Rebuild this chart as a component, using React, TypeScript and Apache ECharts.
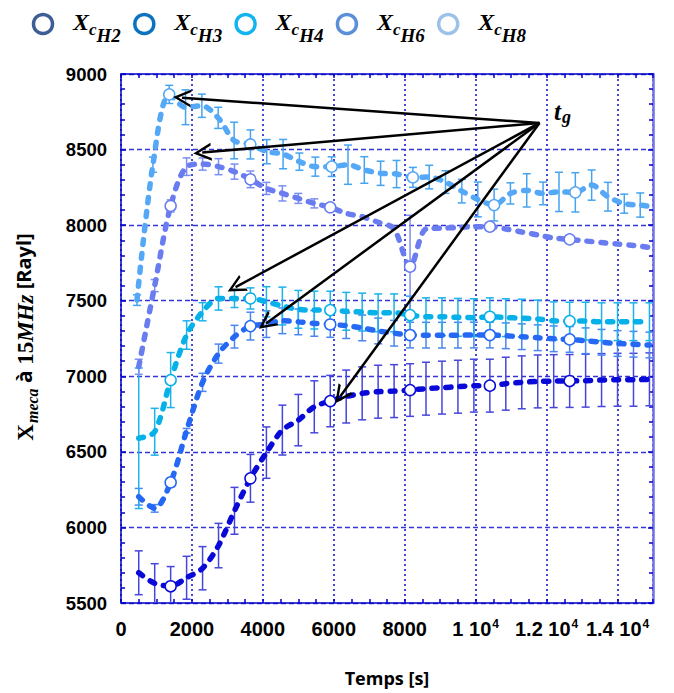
import React, { useEffect, useRef } from 'react';
import * as echarts from 'echarts';

// Times (s) shared by X_cH2, X_cH3, X_cH4, X_cH6
const timesMain = [500, 950, 1400, 1850, 2300, 2750, 3200, 3650, 4100, 4550, 5000, 5450, 5900, 6350, 6800, 7250, 7700, 8150, 8600, 9050, 9500, 9950, 10400, 10850, 11300, 11750, 12200, 12650, 13100, 13550, 14000, 14450, 14900];
// Times (s) of X_cH8
const timesCH8 = [450, 900, 1360, 1820, 2280, 2740, 3190, 3650, 4110, 4570, 5030, 5480, 5940, 6400, 6860, 7320, 7770, 8230, 8690, 9150, 9610, 10060, 10520, 10980, 11440, 11900, 12350, 12810, 13270, 13730, 14190, 14640, 14950];

const ch2 = [5700, 5630, 5611, 5667, 5730, 5880, 6110, 6325, 6495, 6644, 6710, 6798, 6836, 6866, 6887, 6898, 6902, 6909, 6918, 6925, 6931, 6938, 6938, 6951, 6960, 6966, 6968, 6969, 6971, 6975, 6977, 6977, 6980];
const ch2Err = [145, 130, 130, 142, 143, 147, 155, 158, 170, 165, 170, 172, 170, 175, 175, 175, 175, 174, 175, 175, 175, 175, 175, 175, 175, 175, 175, 175, 175, 175, 175, 175, 175];

const ch3 = [6203, 6126, 6298, 6640, 6960, 7150, 7262, 7332, 7345, 7367, 7360, 7350, 7343, 7335, 7320, 7300, 7285, 7273, 7272, 7272, 7272, 7273, 7273, 7268, 7262, 7255, 7248, 7244, 7235, 7225, 7217, 7212, 7207];
const ch3Err = [55, 25, 30, 15, 60, 63, 75, 92, 88, 85, 85, 85, 85, 85, 85, 85, 85, 85, 85, 85, 85, 85, 85, 85, 85, 85, 85, 85, 85, 85, 85, 85, 85];

const ch4 = [6590, 6633, 6975, 7273, 7427, 7515, 7515, 7515, 7493, 7465, 7443, 7438, 7438, 7430, 7425, 7420, 7420, 7405, 7394, 7394, 7390, 7388, 7394, 7388, 7385, 7379, 7367, 7365, 7365, 7361, 7361, 7361, 7361];
const ch4Err = [465, 155, 182, 94, 60, 77, 60, 70, 100, 125, 125, 125, 125, 125, 125, 125, 125, 125, 125, 125, 125, 125, 125, 125, 125, 125, 125, 125, 125, 125, 125, 125, 125];

const ch6 = [7063, 7600, 8127, 8387, 8404, 8387, 8354, 8303, 8243, 8210, 8177, 8144, 8118, 8078, 8056, 8019, 7975, 7725, 7975, 7980, 7985, 7990, 7990, 7975, 7955, 7935, 7915, 7906, 7895, 7885, 7875, 7865, 7853];
const ch6Err = [50, 40, 40, 58, 40, 53, 50, 55, 40, 50, 33, 30, 0, 0, 0, 0, 0, 340, 0, 0, 0, 0, 0, 0, 0, 0, 0, 0, 0, 0, 0, 0, 0];

const ch8 = [7504, 8400, 8865, 8780, 8790, 8710, 8560, 8534, 8486, 8470, 8420, 8387, 8387, 8400, 8365, 8343, 8338, 8316, 8318, 8285, 8225, 8170, 8133, 8210, 8230, 8210, 8220, 8217, 8265, 8188, 8142, 8133, 8122];
const ch8Err = [35, 50, 60, 115, 77, 70, 121, 96, 80, 97, 57, 63, 65, 130, 88, 80, 90, 66, 78, 75, 78, 115, 105, 70, 110, 75, 130, 130, 100, 95, 63, 80, 0];

const seriesNames = ['X_cH2', 'X_cH3', 'X_cH4', 'X_cH6', 'X_cH8'];
const seriesSubs = ['H2', 'H3', 'H4', 'H6', 'H8'];

const xTickValues = [0, 2000, 4000, 6000, 8000, 10000, 12000, 14000];
const xTickLabels = ['0', '2000', '4000', '6000', '8000', '1 10{sup|4}', '1.2 10{sup|4}', '1.4 10{sup|4}'];

// annotation "t_g": origin and arrow tips in data coordinates
const tgOrigin = [11800, 8676];
const tgTips = [[1720, 8843], [2290, 8480], [3230, 7590], [4090, 7350], [6190, 6870]];

const lineColors = ['#0a0ad8', '#2468f4', '#06b0e8', '#6a7df0', '#55a8f6'];
const barColors = ['#4646dc', '#4a86f0', '#1cb2ea', '#7c8ef2', '#45a4f0'];
const legendColors = ['#3d5e96', '#0b72c0', '#11b4ee', '#5b8fd8', '#9cc2ea'];

export default function App() {
  const ref = useRef<HTMLDivElement>(null);
  useEffect(() => {
    document.body.style.margin = '0';
    const chart = echarts.init(ref.current!, null, { renderer: 'svg' });

    const groups = [
      { times: timesMain, vals: ch2, errs: ch2Err },
      { times: timesMain, vals: ch3, errs: ch3Err },
      { times: timesMain, vals: ch4, errs: ch4Err },
      { times: timesMain, vals: ch6, errs: ch6Err },
      { times: timesCH8, vals: ch8, errs: ch8Err },
    ];

    const series: any[] = [];
    groups.forEach((g, k) => {
      const color = barColors[k];
      series.push({
        type: 'custom',
        name: seriesNames[k] + '_err',
        clip: true,
        silent: true,
        z: 2,
        data: g.times.map((t, i) => [t, g.vals[i] - g.errs[i], g.vals[i] + g.errs[i]]).filter((_, i) => g.errs[i] > 0),
        encode: { x: 0, y: [1, 2] },
        renderItem: (params: any, api: any) => {
          const x = api.value(0);
          const lo = api.coord([x, api.value(1)]);
          const hi = api.coord([x, api.value(2)]);
          const w = 4;
          const st = { stroke: color, lineWidth: 1.5 };
          return {
            type: 'group',
            children: [
              { type: 'line', shape: { x1: hi[0], y1: hi[1], x2: lo[0], y2: lo[1] }, style: st },
              { type: 'line', shape: { x1: hi[0] - w, y1: hi[1], x2: hi[0] + w, y2: hi[1] }, style: st },
              { type: 'line', shape: { x1: lo[0] - w, y1: lo[1], x2: lo[0] + w, y2: lo[1] }, style: st },
            ],
          };
        },
      });
    });
    groups.forEach((g, k) => {
      series.push({
        type: 'line',
        name: seriesNames[k],
        z: 3,
        smooth: 0.3,
        showAllSymbol: true,
        symbol: 'circle',
        symbolSize: (_v: any, p: any) => (p.dataIndex % 5 === 2 && p.dataIndex < 32 ? 11 : 0),
        data: g.times.map((t, i) => [t, g.vals[i]]),
        lineStyle: { color: lineColors[k], width: 5.5, type: [5, 9], cap: 'round' },
        itemStyle: { color: '#ffffff', borderColor: lineColors[k], borderWidth: 1.5 },
      });
    });
    series.push({
      type: 'line',
      name: 'tg',
      data: [],
      markLine: {
        silent: true,
        symbol: ['none', 'path://M0,12 L6,0 L12,12 L10.2,12 L6,3.6 L1.8,12 Z'],
        symbolSize: 18,
        label: { show: false },
        lineStyle: { color: '#000', width: 2.5, type: 'solid' },
        data: tgTips.map((tip) => [{ coord: tgOrigin }, { coord: tip }]),
      },
    });

    const axisBlue = '#0000c8';
    const labelFont = { color: '#000', fontWeight: 'bold' as const, fontFamily: 'Liberation Sans' };
    const serif = 'Liberation Serif';

    const legendRich = {
      x: { fontSize: 24, lineHeight: 24, fontStyle: 'italic', fontWeight: 'bold', fontFamily: serif, verticalAlign: 'top', fill: '#000' },
      c: { fontSize: 17, lineHeight: 17, fontStyle: 'italic', fontWeight: 'bold', fontFamily: serif, verticalAlign: 'top', padding: [11, 0, 0, 0], fill: '#000' },
      h: { fontSize: 19, lineHeight: 19, fontStyle: 'italic', fontWeight: 'bold', fontFamily: serif, verticalAlign: 'top', padding: [16, 0, 0, 0], fill: '#000' },
    };
    const legendGraphics: any[] = [];
    seriesNames.forEach((n, i) => {
      legendGraphics.push({
        type: 'circle',
        shape: { cx: 43 + 101.3 * i, cy: 24, r: 9.5 },
        style: { fill: '#ffffff', stroke: legendColors[i], lineWidth: 3.5 },
      });
      legendGraphics.push({
        type: 'text',
        x: 73 + 101.3 * i,
        y: 10,
        style: { text: `{x|X}{c|c}{h|${seriesSubs[i]}}`, rich: legendRich },
      });
    });

    const option: any = {
      animation: false,
      grid: { left: 121, right: 21, top: 74, bottom: 90, containLabel: false },
      xAxis: [
        {
          type: 'value', min: 0, max: 15000, interval: 500, position: 'bottom',
          name: 'Temps [s]', nameLocation: 'middle', nameGap: 66,
          nameTextStyle: { color: '#000', fontSize: 18, fontWeight: 'bold', fontFamily: 'Open Sans' },
          axisLine: { show: true, onZero: false, lineStyle: { color: axisBlue, width: 1.5 } },
          axisTick: { show: true, inside: true, length: 4, lineStyle: { color: axisBlue, width: 1.5 } },
          axisLabel: {
            ...labelFont, fontSize: 20, lineHeight: 22, margin: 15,
            formatter: (v: number) => {
              const idx = xTickValues.indexOf(v);
              return idx >= 0 ? xTickLabels[idx] : '';
            },
            rich: { sup: { fontSize: 12, lineHeight: 12, verticalAlign: 'top', fontWeight: 'bold', fontFamily: 'Liberation Sans', color: '#000', padding: [0, 0, 0, 1] } },
          },
          splitLine: { show: false },
        },
        {
          type: 'value', min: 0, max: 15000, interval: 500, position: 'top',
          axisLine: { show: true, onZero: false, lineStyle: { color: axisBlue, width: 1.5 } },
          axisTick: { show: true, inside: true, length: 4, lineStyle: { color: axisBlue, width: 1.5 } },
          axisLabel: { show: false },
          splitLine: { show: false },
        },
        {
          type: 'value', min: 0, max: 15000, interval: 2000, position: 'bottom',
          axisLine: { show: false }, axisTick: { show: false }, axisLabel: { show: false },
          splitLine: { show: true, lineStyle: { color: '#3434d6', width: 1.8, type: [2, 3] } },
        },
      ],
      yAxis: [
        {
          type: 'value', min: 5500, max: 9000, interval: 500, position: 'left',
          axisLine: { show: true, onZero: false, lineStyle: { color: axisBlue, width: 1.5 } },
          axisTick: { show: true, inside: true, length: 5, lineStyle: { color: axisBlue, width: 1.5 } },
          minorTick: { show: true, splitNumber: 5, length: 4, lineStyle: { color: axisBlue, width: 1.5 } },
          axisLabel: { ...labelFont, fontSize: 18.5, margin: 14, formatter: (v: number) => String(v) },
          splitLine: { show: true, lineStyle: { color: '#3434d6', width: 1.3, type: [5, 3] } },
        },
        {
          type: 'value', min: 5500, max: 9000, interval: 500, position: 'right',
          axisLine: { show: true, onZero: false, lineStyle: { color: '#7070e8', width: 2.5 } },
          axisTick: { show: true, inside: true, length: 5, lineStyle: { color: axisBlue, width: 1.5 } },
          minorTick: { show: true, splitNumber: 5, length: 4, lineStyle: { color: axisBlue, width: 1.5 } },
          axisLabel: { show: false },
          splitLine: { show: false },
        },
      ],
      graphic: [
        ...legendGraphics,
        {
          type: 'text',
          x: 25,
          y: 337,
          rotation: Math.PI / 2,
          style: {
            text: '{X|X}{sub|meca}{b| à }{n|15}{i|MHz}{s| [Rayl]}',
            align: 'center',
            verticalAlign: 'middle',
            rich: {
              X: { fontSize: 23, lineHeight: 23, fontWeight: 'bold', fontFamily: serif, verticalAlign: 'top', fill: '#000' },
              sub: { fontSize: 16, lineHeight: 16, fontWeight: 'bold', fontStyle: 'italic', fontFamily: serif, verticalAlign: 'top', padding: [11, 0, 0, 1], fill: '#000' },
              b: { fontSize: 21, lineHeight: 21, fontWeight: 'bold', fontFamily: 'Open Sans', verticalAlign: 'top', fill: '#000' },
              n: { fontSize: 23, lineHeight: 23, fontWeight: 'bold', fontFamily: serif, verticalAlign: 'top', fill: '#000' },
              i: { fontSize: 23, lineHeight: 23, fontWeight: 'bold', fontStyle: 'italic', fontFamily: serif, verticalAlign: 'top', fill: '#000' },
              s: { fontSize: 20, lineHeight: 23, fontWeight: 'bold', fontFamily: 'Open Sans', verticalAlign: 'top', fill: '#000' },
            },
          },
        },
        {
          type: 'text',
          x: 554,
          y: 99,
          style: {
            text: '{t|t}{g|g}',
            rich: {
              t: { fontSize: 25, lineHeight: 25, fontWeight: 'bold', fontStyle: 'italic', fontFamily: serif, verticalAlign: 'top', fill: '#000' },
              g: { fontSize: 18, lineHeight: 18, fontWeight: 'bold', fontStyle: 'italic', fontFamily: serif, verticalAlign: 'top', padding: [9, 0, 0, 1], fill: '#000' },
            },
          },
        },
      ],
      series,
    };
    chart.setOption(option);
    return () => chart.dispose();
  }, []);
  return <div ref={ref} style={{ width: 674, height: 693 }} />;
}
